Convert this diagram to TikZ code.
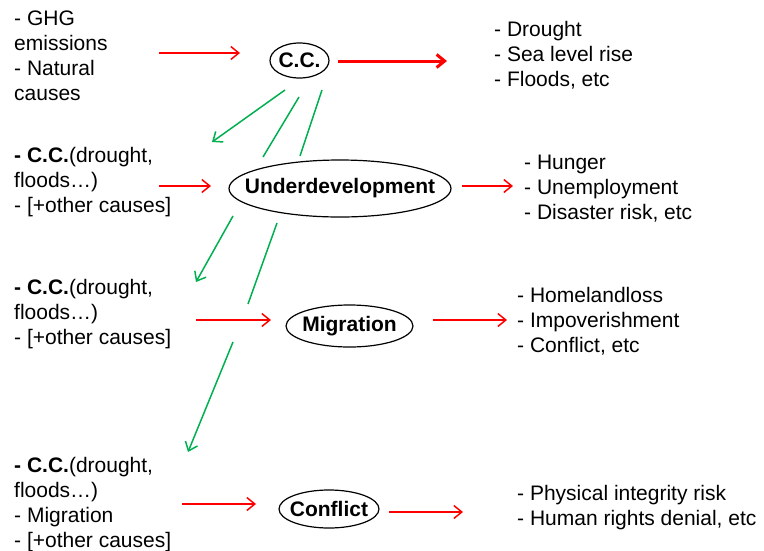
\documentclass[tikz,border=0pt]{standalone}
\usepackage{fontspec}
\setmainfont{Liberation Sans}
\usepackage{xcolor}
\usepackage{tikz}
\usetikzlibrary{positioning,calc,arrows.meta}
\definecolor{cause}{RGB}{255,0,0}
\definecolor{link}{RGB}{0,176,80}

\begin{document}
\begin{tikzpicture}[x=1pt,y=-1pt,
		txt/.style={anchor=base west,align=left,inner sep=0pt,font=\fontsize{21}{25}\selectfont},
		lbl/.style={inner sep=0pt,font=\fontsize{21}{25}\selectfont\bfseries},
		rim/.style={draw=black,line width=1.2pt},
		redarr/.style={cause,line width=1.5pt,-{Straight Barb[length=8pt,width=13pt]}},
		greenarr/.style={link,line width=1.5pt,-{Straight Barb[length=8pt,width=13pt]}},
		greenln/.style={link,line width=1.5pt}]
		\useasboundingbox (0,0) rectangle (764,550);
		% row 1
		\node[txt] (ghg) at (14,100) {- GHG\\emissions\\- Natural\\causes};
		\node[lbl] (cc) at (299.5,60.5) {C.C.};
		\draw[rim] (cc) ellipse[x radius=29.5,y radius=17.5];
		\node[txt] (eff1) at (494,86) {- Drought\\- Sea level rise\\- Floods, etc};
		\coordinate (a1) at (159,53);
		\coordinate (b1) at (240,53);
		\coordinate (c1) at (338,61);
		\coordinate (d1) at (447,61);
		\draw[redarr] (a1)--(b1);
		\draw[redarr,line width=3pt] (c1)--(d1);
		% row 2
		\node[txt] (cc2) at (14,212) {\textbf{- C.C.}(drought,\\floods\dots)\\- [+other causes]};
		\node[lbl] (und) at (340,188.5) {Underdevelopment};
		\draw[rim] (und) ellipse[x radius=111,y radius=28.5];
		\node[txt] (eff2) at (524,219) {- Hunger\\- Unemployment\\- Disaster risk, etc};
		\coordinate (a2) at (159,186);
		\coordinate (b2) at (211,186);
		\coordinate (c2) at (462,186);
		\coordinate (d2) at (513,186);
		\draw[redarr] (a2)--(b2);
		\draw[redarr] (c2)--(d2);
		% row 3
		\node[txt] (cc3) at (14,344) {\textbf{- C.C.}(drought,\\floods\dots)\\- [+other causes]};
		\node[lbl] (mig) at (349.5,326) {Migration};
		\draw[rim] (mig) ellipse[x radius=63.5,y radius=21];
		\node[txt] (eff3) at (517,352) {- Homelandloss\\- Impoverishment\\- Conflict, etc};
		\coordinate (a3) at (196,320);
		\coordinate (b3) at (271,320);
		\coordinate (c3) at (433,320);
		\coordinate (d3) at (507,320);
		\draw[redarr] (a3)--(b3);
		\draw[redarr] (c3)--(d3);
		% row 4
		\node[txt] (cc4) at (14,547) {\textbf{- C.C.}(drought,\\floods\dots)\\- Migration\\- [+other causes]};
		\node[lbl] (con) at (329,509) {Conflict};
		\draw[rim] (con) ellipse[x radius=50,y radius=19];
		\node[txt] (eff4) at (517,525) {- Physical integrity risk\\- Human rights denial, etc};
		\coordinate (a4) at (182,504);
		\coordinate (b4) at (256,504);
		\coordinate (c4) at (389,512);
		\coordinate (d4) at (463,512);
		\draw[redarr] (a4)--(b4);
		\draw[redarr] (c4)--(d4);
		% green links
		\coordinate (g1s) at (285,90);  \coordinate (g1e) at (212,142);
		\coordinate (g2s) at (299,97);  \coordinate (g2e) at (263,157);
		\coordinate (g3s) at (322,90);  \coordinate (g3e) at (300,156);
		\coordinate (g4s) at (233,216); \coordinate (g4e) at (196,282);
		\coordinate (g5s) at (277,223); \coordinate (g5e) at (248,304);
		\coordinate (g6s) at (233,342); \coordinate (g6e) at (188,452);
		\draw[greenarr] (g1s)--(g1e);
		\draw[greenln] (g2s)--(g2e);
		\draw[greenln] (g3s)--(g3e);
		\draw[greenarr] (g4s)--(g4e);
		\draw[greenln] (g5s)--(g5e);
		\draw[greenarr] (g6s)--(g6e);
	\end{tikzpicture}
\end{document}
